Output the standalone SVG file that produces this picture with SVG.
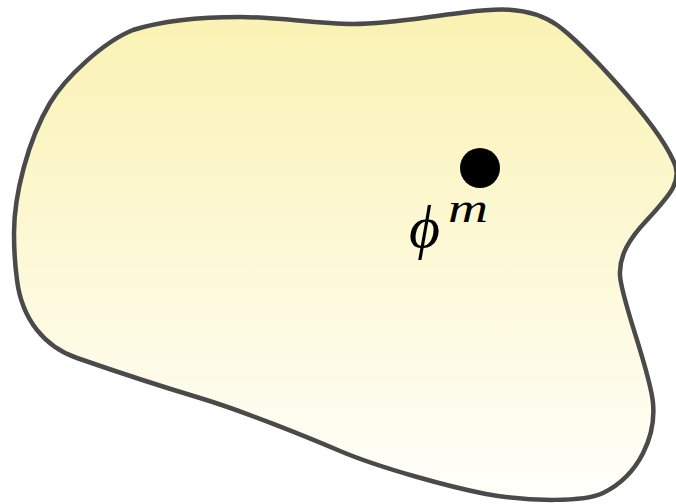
<svg xmlns="http://www.w3.org/2000/svg" width="676" height="504" viewBox="0 0 676 504">
<defs>
<linearGradient id="fill" x1="0" y1="0" x2="0" y2="1">
<stop offset="0" stop-color="#FAF2B2"/>
<stop offset="1" stop-color="#FFFFFB"/>
</linearGradient>
<style>
.blob{fill:url(#fill);stroke:#4a4a4a;stroke-width:4.5;stroke-linejoin:round}
.lbl{font-family:"Liberation Serif","DejaVu Serif",serif;font-style:italic;fill:#000}
</style>
</defs>
<rect width="676" height="504" fill="#ffffff"/>
<g id="region">
<path class="blob" d="M240,17 C280,17 315,24 353,24 C390,24 425,17 460,13 C485,10 525,3 557,25 C580,41 655,120 673,160 C684,180 670,195 647,220 C630,238 619,255 620,275 C621,300 650,370 653,403 C656,435 640,475 603,493 C585,502 530,502 486,494 C450,487 380,468 340,451 C305,436 240,410 200,398 C160,386 100,366 77,358 C45,347 22,320 17,280 C15,265 14,250 14,233 C14,195 28,140 50,103 C65,78 103,42 133,30 C165,20 200,17 240,17 Z"/>
</g>
<g id="point">
<circle cx="480" cy="168" r="20" fill="#000"/>
<text class="lbl" x="409" y="247" font-size="60">ϕ<tspan x="448" y="222" font-size="40" textLength="40" lengthAdjust="spacingAndGlyphs">m</tspan></text>
</g>
<g id="connectors"/>
</svg>
